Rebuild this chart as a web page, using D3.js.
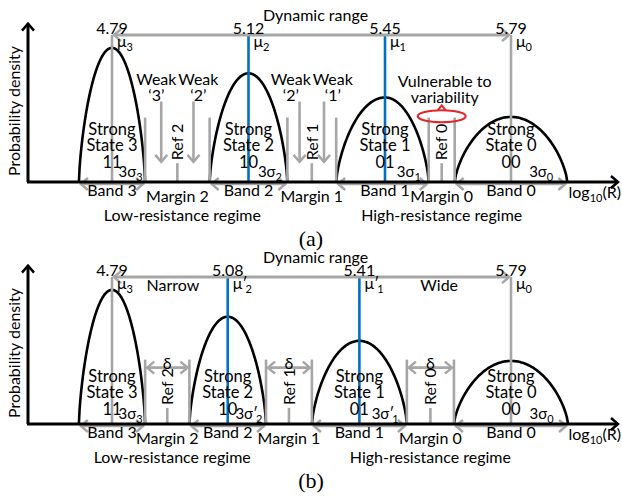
<!DOCTYPE html>
<html lang="en">
<head>
<meta charset="UTF-8">
<script src="https://cdn.jsdelivr.net/npm/d3@7"></script>
<title>resistance states</title>
<style>
  body { margin: 0; background: #fff; }
  text { font-family: Lato, "Open Sans", sans-serif; font-size: 16px; fill: #000; }
</style>
</head>
<body>
<script>
  // states left to right (low R -> high R)
  let states = ['3', '2', '1', '0']
  let codes = ['11', '10', '01', '00']
  // mean log10(R) of each state
  let muA = [4.79, 5.12, 5.45, 5.79]
  let muB = [4.79, 5.08, 5.41, 5.79]
  // 3 sigma half width (log10 R)
  let spreadA = [0.08, 0.094, 0.118, 0.152]
  let spreadB = [0.083, 0.096, 0.119, 0.143]
  // peak density, relative to state 3
  let peakA = [1.0, 0.81, 0.63, 0.485]
  let peakB = [1.0, 0.80, 0.62, 0.47]
  // which means / sigmas are primed in (b)
  let primeA = [false, false, false, false]
  let primeB = [false, true, true, false]
  let margins = ['2', '1', '0']
  let weakPairs = [['‘3’', '‘2’'], ['‘2’', '‘1’']]

  let width = 622
  let height = 502
  let gray = '#a6a6a6'
  let blue = '#0070c0'
  let red = '#e2262b'

  let svg = d3.select('body').append('svg')
    .attr('width', width)
    .attr('height', height)

  let defs = svg.append('defs')
  function marker(id, color) {
    defs.append('marker')
      .attr('id', id)
      .attr('viewBox', '-10 -8 12 16')
      .attr('markerWidth', 12)
      .attr('markerHeight', 16)
      .attr('markerUnits', 'userSpaceOnUse')
      .attr('refX', 0)
      .attr('refY', 0)
      .attr('orient', 'auto-start-reverse')
      .append('path')
      .attr('d', 'M-7,-6L0,0L-7,6')
      .attr('fill', 'none')
      .attr('stroke', color)
      .attr('stroke-width', 2.5)
  }
  marker('hg', gray)
  marker('hk', '#000')

  let panels = [
    {
      name: '(a)', top: 0, mu: muA, spread: spreadA, peak: peakA, prime: primeA, drop: 0, tick: 0.14,
      x: d3.scaleLinear().domain([muA[0], muA[2], muA[3]]).range([112, 385, 511])
    },
    {
      name: '(b)', top: 242, mu: muB, spread: spreadB, peak: peakB, prime: primeB, drop: 5, tick: 0.12,
      x: d3.scaleLinear().domain([muB[0], muB[3]]).range([112, 511])
    }
  ]

  function sub(sel, base, prime, s) {
    sel.append('tspan').text(base)
    if (prime) sel.append('tspan').text('′')
    sel.append('tspan')
      .attr('font-size', 11)
      .attr('dy', 4)
      .attr('dx', prime ? -2 : 0)
      .text(s)
  }

  panels.forEach(p => {
    let g = svg.append('g')
    let x = p.x
    let y = d3.scaleLinear().domain([0, 1.2]).range([p.top + 182, p.top + 21])
    let axisY = y(0)
    let dynY = y(1.095)

    // edges of each band
    let lo = p.mu.map((m, i) => x(m - p.spread[i]))
    let hi = p.mu.map((m, i) => x(m + p.spread[i]))
    let refs = margins.map((m, j) => (hi[j] + lo[j + 1]) / 2)

    // distributions
    let line = d3.line().x(d => x(d[0])).y(d => y(d[1]))
    p.mu.forEach((m, i) => {
      let pts = d3.range(-1, 1.0001, 0.02).map(u =>
        [m + u * p.spread[i], p.peak[i] * Math.pow(Math.max(0, 1 - u * u), 0.7)])
      g.append('path')
        .attr('d', line(pts))
        .attr('fill', 'none')
        .attr('stroke', '#000')
        .attr('stroke-width', 2.6)
    })

    // band edge markers
    let edges = hi.slice(0, 3).concat(lo.slice(1))
    g.selectAll('.edge').data(edges).enter().append('line')
      .attr('x1', d => d).attr('x2', d => d)
      .attr('y1', y(0.48)).attr('y2', axisY)
      .attr('stroke', gray).attr('stroke-width', 2.6)

    // mean lines
    p.mu.forEach((m, i) => {
      g.append('line')
        .attr('x1', x(m)).attr('x2', x(m))
        .attr('y1', dynY).attr('y2', axisY)
        .attr('stroke', i === 1 || i === 2 ? blue : gray)
        .attr('stroke-width', 2.6)
    })

    // dynamic range arrow
    g.append('line')
      .attr('x1', x(p.mu[0]) + 2).attr('x2', x(p.mu[3]) - 2)
      .attr('y1', dynY).attr('y2', dynY)
      .attr('stroke', gray).attr('stroke-width', 3)
      .attr('marker-start', 'url(#hg)').attr('marker-end', 'url(#hg)')

    // band arrows
    p.mu.forEach((m, i) => {
      g.append('line')
        .attr('x1', lo[i] + 2).attr('x2', hi[i] - 2)
        .attr('y1', axisY + 2).attr('y2', axisY + 2)
        .attr('stroke', gray).attr('stroke-width', 2.6)
        .attr('marker-start', 'url(#hg)').attr('marker-end', 'url(#hg)')
    })

    // ref ticks + labels
    refs.forEach((r, j) => {
      g.append('line')
        .attr('x1', r).attr('x2', r)
        .attr('y1', y(p.tick)).attr('y2', axisY)
        .attr('stroke', gray).attr('stroke-width', 2.6)
      g.append('text')
        .attr('transform', `translate(${r},${y(p.tick) - 3}) rotate(-90)`)
        .attr('dy', '0.36em')
        .text('Ref ' + margins[j])
      g.append('text')
        .attr('x', r).attr('y', axisY + 20)
        .attr('text-anchor', 'middle')
        .text('Margin ' + margins[j])
    })

    // axes
    g.append('line')
      .attr('x1', 28).attr('x2', 28)
      .attr('y1', axisY).attr('y2', y(1.18))
      .attr('stroke', '#000').attr('stroke-width', 3)
      .attr('marker-end', 'url(#hk)')
    g.append('line')
      .attr('x1', 27).attr('x2', 618)
      .attr('y1', axisY).attr('y2', axisY)
      .attr('stroke', '#000').attr('stroke-width', 3)
      .attr('marker-end', 'url(#hk)')

    // texts
    p.mu.forEach((m, i) => {
      let cx = x(m)
      g.append('text').attr('x', cx).attr('y', dynY - 1)
        .attr('text-anchor', 'middle').text(m.toFixed(2))
      let t = g.append('text').attr('x', cx + 5).attr('y', dynY + 12)
      sub(t, 'μ', p.prime[i], states[i])
      let lines = ['Strong', 'State ' + states[i], codes[i]]
      let offs = [-47, -31, -14]
      lines.forEach((l, k) => {
        g.append('text').attr('x', cx).attr('y', axisY + offs[k] + p.drop)
          .attr('text-anchor', 'middle').style('font-size', '16.5px').text(l)
      })
      let s = g.append('text').attr('x', x(m + p.spread[i] / 2) + 2).attr('y', axisY - 5)
        .attr('text-anchor', 'middle').style('font-size', '15px')
      sub(s, '3σ', p.prime[i], states[i])
      g.append('text').attr('x', cx).attr('y', axisY + 14)
        .attr('text-anchor', 'middle').text('Band ' + states[i])
    })

    g.append('text').attr('x', 621).attr('y', axisY + 16)
      .attr('text-anchor', 'end').call(t => sub(t, 'log', false, '10'))
      .append('tspan').attr('dy', -4).text('(R)')

    g.append('text').attr('x', (x(p.mu[0]) + x(p.mu[3])) / 2 + 4).attr('y', dynY - 14)
      .attr('text-anchor', 'middle').text('Dynamic range')

    g.append('text')
      .attr('transform', `translate(14,${axisY - 71}) rotate(-90)`)
      .attr('dy', '0.36em')
      .attr('text-anchor', 'middle')
      .text('Probability density')

    g.append('text').attr('x', refs[0] + 5).attr('y', axisY + 39)
      .attr('text-anchor', 'middle').text('Low-resistance regime')
    g.append('text').attr('x', refs[2]).attr('y', axisY + 39)
      .attr('text-anchor', 'middle').text('High-resistance regime')

    g.append('text').attr('x', 311).attr('y', axisY + 64)
      .attr('text-anchor', 'middle')
      .style('font-family', '"Liberation Serif", serif')
      .style('font-size', '22px')
      .text(p.name)

    if (p.name === '(a)') {
      // weak read arrows in margins 2 and 1
      weakPairs.forEach((pair, j) => {
        let ax = [(hi[j] + refs[j]) / 2, (refs[j] + lo[j + 1]) / 2]
        ax.forEach((a, k) => {
          g.append('line')
            .attr('x1', a).attr('x2', a)
            .attr('y1', y(0.6)).attr('y2', y(0.15))
            .attr('stroke', gray).attr('stroke-width', 2.6)
            .attr('marker-end', 'url(#hg)')
          let lx = refs[j] + (k ? 21 : -21)
          g.append('text').attr('x', lx).attr('y', y(0.725))
            .attr('text-anchor', 'middle').text('Weak')
          g.append('text').attr('x', lx).attr('y', y(0.605))
            .attr('text-anchor', 'middle').text(pair[k])
        })
      })
      // margin 0 is vulnerable
      let ex = refs[2]
      let ey = y(0.49)
      g.append('ellipse')
        .attr('cx', ex).attr('cy', ey)
        .attr('rx', (lo[3] - hi[2]) / 2 + 11).attr('ry', 6)
        .attr('fill', 'none').attr('stroke', red).attr('stroke-width', 2.2)
      g.append('path')
        .attr('d', `M${ex - 4},${ey - 6}L${ex},${ey - 11}L${ex + 4},${ey - 6}`)
        .attr('fill', 'none').attr('stroke', red).attr('stroke-width', 2)
      g.append('text').attr('x', ex + 3).attr('y', y(0.71))
        .attr('text-anchor', 'middle').text('Vulnerable to')
      g.append('text').attr('x', ex + 3).attr('y', y(0.59))
        .attr('text-anchor', 'middle').text('variability')
    } else {
      // equal spacing delta between bands
      refs.forEach((r, j) => {
        g.append('line')
          .attr('x1', hi[j] + 2).attr('x2', lo[j + 1] - 2)
          .attr('y1', y(0.42)).attr('y2', y(0.42))
          .attr('stroke', gray).attr('stroke-width', 2.6)
          .attr('marker-start', 'url(#hg)').attr('marker-end', 'url(#hg)')
        g.append('text').attr('x', r).attr('y', y(0.42) + 1)
          .attr('text-anchor', 'middle').text('δ')
      })
      g.append('text').attr('x', (x(p.mu[0]) + x(p.mu[1])) / 2 + 3).attr('y', dynY + 14)
        .attr('text-anchor', 'middle').text('Narrow')
      g.append('text').attr('x', (x(p.mu[2]) + x(p.mu[3])) / 2 + 4).attr('y', dynY + 14)
        .attr('text-anchor', 'middle').text('Wide')
    }
  })
</script>
</body>
</html>
